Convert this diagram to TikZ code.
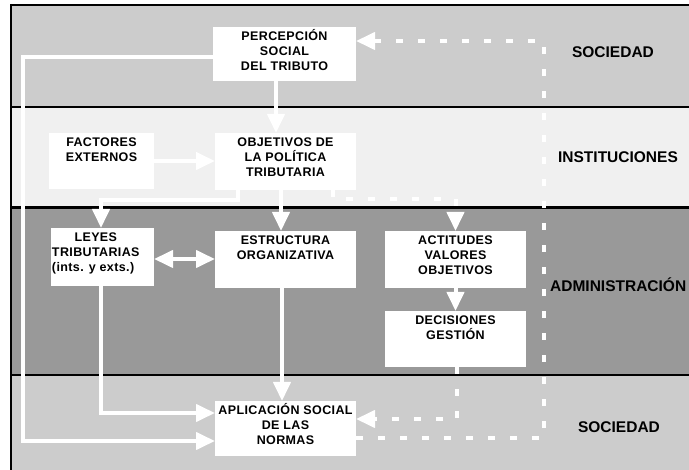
\documentclass[tikz,border=0pt]{standalone}
\usepackage{fontspec}
\setmainfont{Liberation Sans}
\newfontfamily\boxfont[LetterSpace=3]{Liberation Sans}
\usetikzlibrary{arrows.meta}

\definecolor{bandsoc}{gray}{0.80}
\definecolor{bandinst}{gray}{0.94}
\definecolor{bandadm}{gray}{0.60}

% white box text: fixed size, lines centred from the top
\newcommand\boxtext[3]{\parbox[c][#2][t]{#1}{\centering\rule{0pt}{14pt}#3}}

\tikzset{
  box/.style={fill=white, inner sep=0pt, outer sep=0pt, anchor=north west,
    font=\boxfont\bfseries\fontsize{12.5}{15}\selectfont},
  sidelabel/.style={font=\bfseries\fontsize{15.5}{18}\selectfont, inner sep=0pt},
  sep/.style={black, line width=2.5pt},
  wline/.style={white, line width=4pt},
  dline/.style={wline, dash pattern=on 7pt off 15pt},
  >={Triangle[width=17pt,length=19pt]},
}

\begin{document}
\begin{tikzpicture}[x=1pt, y=-1pt]
\useasboundingbox (0,0) rectangle (689,470);
\fill[white] (0,0) rectangle (689,470);

% bands
\fill[bandsoc]  (11,5)   rectangle (689,107);
\fill[bandinst] (11,107) rectangle (689,207.5);
\fill[bandadm]  (11,207.5) rectangle (689,375);
\fill[bandsoc]  (11,375) rectangle (689,470);
\draw[sep] (11,5) -- (689,5);
\draw[sep] (11,107) -- (689,107);
\draw[sep] (11,207.5) -- (689,207.5);
\draw[sep] (11,375) -- (689,375);
\draw[sep] (11,4) -- (11,470);

% band labels
\node[sidelabel] (lsoc1) at (613,52) {SOCIEDAD};
\node[sidelabel] (linst) at (618,157) {INSTITUCIONES};
\node[sidelabel, anchor=west] (ladm) at (550,285) {ADMINISTRACIÓN};
\node[sidelabel] (lsoc2) at (619,427) {SOCIEDAD};

% boxes
\node[box] (perc) at (213,27)  {\boxtext{143pt}{54pt}{PERCEPCIÓN\\SOCIAL\\DEL TRIBUTO}};
\node[box] (fact) at (49,133)  {\boxtext{105pt}{56pt}{FACTORES\\EXTERNOS}};
\node[box] (obj)  at (215,133) {\boxtext{141pt}{57pt}{OBJETIVOS DE\\LA POLÍTICA\\TRIBUTARIA}};
\node[box] (leyes) at (51,228) {\parbox[c][58pt][t]{103pt}{\rule{0pt}{14pt}\hspace*{1pt}%
  \begin{tabular}[t]{@{}c@{}}LEYES\\TRIBUTARIAS\\\multicolumn{1}{@{}l@{}}{(ints. y exts.)}\end{tabular}}};
\node[box] (estr) at (215,231) {\boxtext{141pt}{57pt}{ESTRUCTURA\\ORGANIZATIVA}};
\node[box] (act)  at (385,231) {\boxtext{141pt}{57pt}{ACTITUDES\\VALORES\\OBJETIVOS}};
\node[box] (dec)  at (385,311) {\boxtext{141pt}{56pt}{DECISIONES\\GESTIÓN}};
\node[box] (apl)  at (215,401) {\boxtext{141pt}{55pt}{APLICACIÓN SOCIAL\\DE LAS\\NORMAS}};

% bend points
\coordinate (jl) at (23,441);
\coordinate (jo) at (101,200);
\coordinate (jd) at (333,199);
\coordinate (jy) at (101,413);
\coordinate (jg) at (457,419);
\coordinate (jr) at (544,438);
\coordinate (jt) at (544,41);

% solid connectors
\draw[wline,->] ([xshift=-8.5pt]perc.south) -- ([xshift=-9.5pt]obj.north);
\draw[wline,->] ([yshift=-3pt]perc.west) -| (jl) -- (jl -| apl.west);
\draw[wline,->] (fact.east) -- (fact.east -| obj.west);
\draw[wline,->] ([xshift=-47.5pt]obj.south) |- (jo) -- (jo |- leyes.north);
\draw[wline,->] ([xshift=-4.5pt]obj.south) -- ([xshift=-4.5pt]estr.north);
\draw[wline,<->] ([yshift=-2pt]leyes.east) -- ([yshift=-2pt]leyes.east -| estr.west);
\draw[wline,->] (jy |- leyes.south) -- (jy) -- (jy -| apl.west);
\draw[wline,->] ([xshift=-3.5pt]estr.south) -- ([xshift=-3.5pt]apl.north);
\draw[wline,->] (act.south) -- (dec.north);

% dashed connectors
\draw[dline,->] (jd |- obj.south) -- (jd) -| (act.north);
\draw[dline,->] (jg |- dec.south) -- (jg) -- (jg -| apl.east);
\draw[dline,->] (jr -| apl.east) -- (jr) -- (jt) -- (jt -| perc.east);
\end{tikzpicture}
\end{document}
